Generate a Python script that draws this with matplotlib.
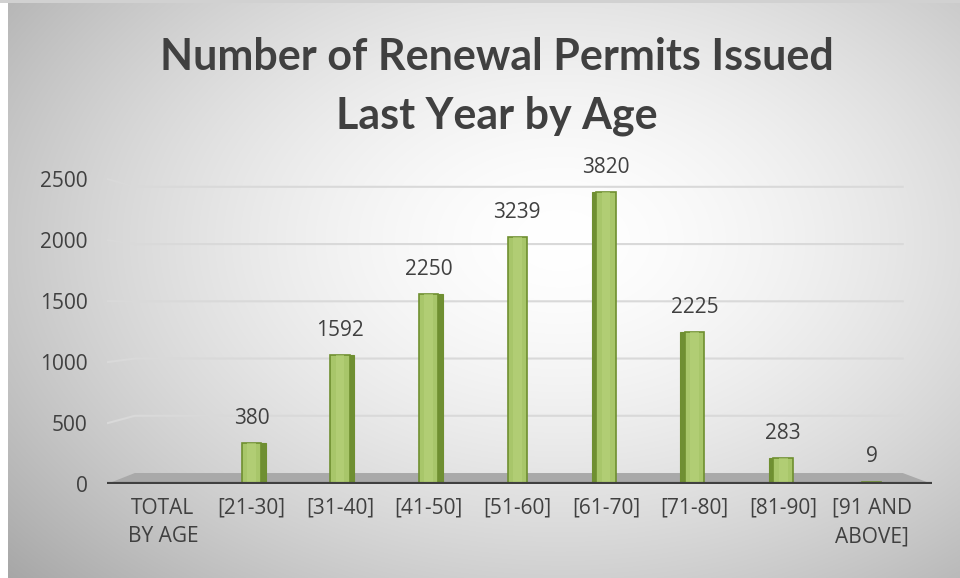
import numpy as np
import matplotlib.pyplot as plt

plt.rcParams['font.family'] = ['Open Sans', 'DejaVu Sans']

categories = ['TOTAL\nBY AGE', '[21-30]', '[31-40]', '[41-50]', '[51-60]',
              '[61-70]', '[71-80]', '[81-90]', '[91 AND\nABOVE]']
value_labels = ['', '380', '1592', '2250', '3239', '3820', '2225', '283', '9']
# bar heights as drawn against the value axis (3-D perspective shrinks them)
drawn_heights = [0, 336, 1057, 1557, 2025, 2393, 1246, 213, 20]
yticks = [0, 500, 1000, 1500, 2000, 2500]

text_col = '#404040'
face = '#a8c66a'
edge = '#6f8f30'
side = '#6f8f33'

fig = plt.figure(figsize=(9.6, 5.78), dpi=100)

# radial grey background
bg = fig.add_axes([0, 0, 1, 1], zorder=-5)
yy, xx = np.mgrid[0:578, 0:960]
r = np.hypot((xx - 560) / 620.0, (yy - 240) / 420.0)
shade = 1.0 - 0.26 * np.clip(r, 0, 1.3) ** 1.6
img = np.dstack([shade] * 3)
img[:, :8] = 1.0
img[:3, :] = 0.82
bg.imshow(img, aspect='auto', interpolation='bilinear')
bg.axis('off')

ax = fig.add_axes([107 / 960, 94 / 578, 825 / 960, 317 / 578])
ax.set_xlim(-0.63, 8.68)
ax.set_ylim(0, 2600)
ax.patch.set_alpha(0)
for s in ax.spines.values():
    s.set_visible(False)

x = np.arange(len(categories))

# back wall gridlines with the short slanted lead-in on the left
lift, squeeze = 90, 0.939
for t in yticks[1:]:
    back = lift + squeeze * t
    ax.plot([-0.62, -0.316, 8.35], [t, back, back], color='#d9d9d9', lw=1.5, zorder=1)

# floor
ax.fill([-0.63, -0.316, 8.35, 8.68], [0, lift, lift, 0], color='#a9a9a9', zorder=2, lw=0)
ax.plot([-0.63, 8.68], [0, 0], color='#404040', lw=3, zorder=6, solid_capstyle='butt')

# bars with a darker side face
w = 0.22
sw = 0.05
for i, h in enumerate(drawn_heights):
    if h <= 0:
        continue
    ax.bar(x[i], h, width=w, color=face, edgecolor=edge, lw=1.2, zorder=4)
    ax.bar(x[i], h, width=w * 0.45, color='#b8d37c', lw=0, zorder=4.5, alpha=0.6)
    off = w / 2 + sw / 2 if i < 5 else -(w / 2 + sw / 2)
    if i != 4:
        ax.bar(x[i] + off, h, width=sw, color=side, edgecolor=edge, lw=0.8, zorder=3.5)

for i, lab in enumerate(value_labels):
    if lab:
        ax.annotate(lab, (x[i], drawn_heights[i]), xytext=(0, 25), textcoords='offset pixels',
                    ha='center', va='center', fontsize=15, color=text_col)

ax.set_yticks(yticks)
ax.set_yticklabels([str(t) for t in yticks])
ax.set_xticks(x)
ax.set_xticklabels(categories, linespacing=1.45)
ax.tick_params(axis='y', length=0, pad=14, labelsize=15, labelcolor=text_col)
ax.tick_params(axis='x', length=0, pad=10, labelsize=15, labelcolor=text_col)

title_kw = dict(ha='center', va='center', fontsize=31, fontweight='bold',
                family=['Lato', 'DejaVu Sans'], color=text_col)
fig.text(0.518, 1 - 57 / 578, 'Number of Renewal Permits Issued', **title_kw)
fig.text(0.518, 1 - 116 / 578, 'Last Year by Age', **title_kw)

fig.savefig('out.png', dpi=100)
